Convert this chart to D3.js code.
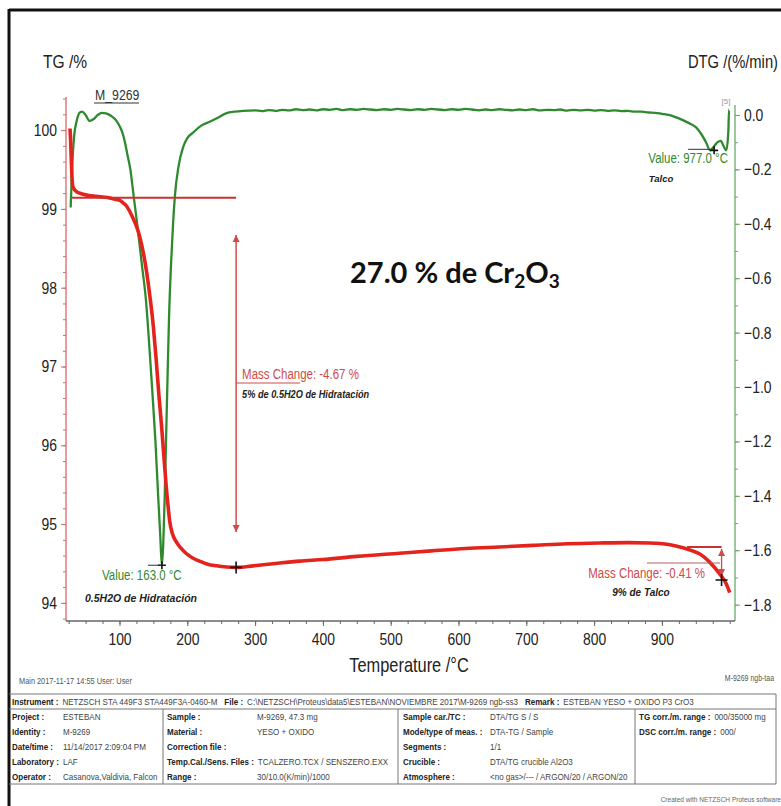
<!DOCTYPE html>
<html><head><meta charset="utf-8">
<script src="https://cdn.jsdelivr.net/npm/d3@7"></script>
<style>
body{margin:0;background:#fff;}
svg text{font-family:"Liberation Sans",Arial,sans-serif;}
</style></head><body>
<svg id="c" width="781" height="806"></svg>
<script>
// ---------- data ----------
const tgTemp = [27,28,29,30,31,34,38,45,55,65,75,85,95,100,105,110,115,120,125,130,135,140,145,150,154,158,162,166,169,172,174,178,184,190,198,208,218,230,243,258,272,297,330,366,400,450,513,560,610,660,710,760,808,850,882,910,931,945,956,970,985,995,1000];
const tgMass = [100.02,99.85,99.6,99.4,99.29,99.24,99.21,99.19,99.17,99.16,99.15,99.14,99.12,99.11,99.08,99.04,98.97,98.88,98.78,98.64,98.45,98.2,97.88,97.5,97.1,96.65,96.25,95.8,95.47,95.2,95.04,94.88,94.77,94.7,94.63,94.57,94.53,94.49,94.47,94.455,94.45,94.47,94.5,94.53,94.55,94.59,94.63,94.66,94.69,94.71,94.73,94.75,94.76,94.765,94.76,94.74,94.7,94.66,94.62,94.52,94.37,94.24,94.13];

const dtgTemp = [28,30,33,37,42,45,50,56,62,68,74,80,88,95,101,105,108,112,116,121,127,133,139,144,148,153,157,160,162.5,164.5,166.5,168.6,171,173,176,179,182,187,194,200,208,220,233,245,258,270,282,300,310,320,330,340,350,360,370,380,390,400,410,420,430,440,450,460,470,480,490,500,510,520,530,540,550,560,570,580,590,600,610,620,630,640,650,660,670,680,690,700,710,720,730,740,750,760,770,780,790,800,810,820,830,840,850,860,870,880,890,900,910,920,930,940,950,958,965,971,977,982,987,991,995,998,999,1000];
const dtgRate = [-0.34,-0.2,-0.08,-0.02,0.01,0.012,0.0,-0.022,-0.015,0.0,0.008,0.006,-0.004,-0.02,-0.045,-0.07,-0.1,-0.15,-0.2,-0.3,-0.42,-0.55,-0.68,-0.85,-1.0,-1.2,-1.4,-1.54,-1.655,-1.58,-1.42,-1.2,-0.95,-0.75,-0.55,-0.4,-0.29,-0.19,-0.117,-0.085,-0.066,-0.04,-0.025,-0.01,0.007,0.012,0.015,0.017,0.014,0.018,0.015,0.019,0.017,0.021,0.018,0.02,0.017,0.021,0.019,0.022,0.018,0.021,0.019,0.022,0.02,0.018,0.021,0.019,0.022,0.02,0.018,0.021,0.019,0.022,0.02,0.018,0.021,0.019,0.022,0.02,0.017,0.02,0.018,0.021,0.019,0.017,0.02,0.018,0.021,0.017,0.019,0.018,0.02,0.016,0.019,0.017,0.019,0.016,0.018,0.015,0.017,0.014,0.015,0.012,0.012,0.009,0.008,0.004,0.0,-0.008,-0.018,-0.03,-0.045,-0.07,-0.1,-0.13,-0.115,-0.1,-0.095,-0.115,-0.13,-0.06,0.02];

const tgTicks = [94,95,96,97,98,99,100];
const tgMinor = d3.range(93.8,100.41,0.2);
const dtgTicks = [0,-0.2,-0.4,-0.6,-0.8,-1.0,-1.2,-1.4,-1.6,-1.8];
const dtgMinor = d3.range(0,-1.86,-0.1);
const tempTicks = [100,200,300,400,500,600,700,800,900];
const tempMinor = d3.range(25,1001,25);

// annotations (values)
const step1 = {t0:30, t1:272, start:99.14, end:94.45, arrowTop:98.67, arrowBot:94.9, label:"Mass Change: -4.67 %", note:"5% de 0.5H2O de Hidratación"};
const step2 = {t0:937, t1:988, start:94.71, end:94.29, label:"Mass Change: -0.41 %", note:"9% de Talco"};
const peak1 = {t:162.5, v:-1.655, label:"Value: 163.0 °C", note:"0.5H2O de Hidratación"};
const peak2 = {t:977, v:-0.13, label:"Value: 977.0 °C", note:"Talco"};

const tableHead = [["Instrument :", "NETZSCH STA 449F3 STA449F3A-0460-M"],["File :", "C:\\NETZSCH\\Proteus\\data5\\ESTEBAN\\NOVIEMBRE 2017\\M-9269 ngb-ss3"],["Remark :", "ESTEBAN YESO + OXIDO P3 CrO3"]];
const tableCol1 = [["Project :","ESTEBAN"],["Identity :","M-9269"],["Date/time :","11/14/2017 2:09:04 PM"],["Laboratory :","LAF"],["Operator :","Casanova,Valdivia, Falcon"]];
const tableCol2 = [["Sample :","M-9269, 47.3 mg"],["Material :","YESO + OXIDO"],["Correction file :",""],["Temp.Cal./Sens. Files :","TCALZERO.TCX / SENSZERO.EXX"],["Range :","30/10.0(K/min)/1000"]];
const tableCol3 = [["Sample car./TC :","DTA/TG S / S"],["Mode/type of meas. :","DTA-TG / Sample"],["Segments :","1/1"],["Crucible :","DTA/TG crucible Al2O3"],["Atmosphere :","<no gas>/--- / ARGON/20 / ARGON/20"]];
const tableCol4 = [["TG corr./m. range :","000/35000 mg"],["DSC corr./m. range :","000/"]];

// ---------- layout ----------
const SX = 0.82; // narrow-font emulation
const svg = d3.select("#c");
svg.append("rect").attr("width",781).attr("height",806).attr("fill","#fff");
const X0=66, X1=735, Y0=97, Y1=621;
const x = d3.scaleLinear().domain([21.1,1007.8]).range([X0,X1]);
const yTG = d3.scaleLinear().domain([93.77,100.42]).range([Y1,Y0]);
const yD = d3.scaleLinear().domain([-1.86,0.066]).range([Y1,Y0]);

const RED="#e5231d", GREEN="#2f8a2f", AXRED="#d66a6a", AXGREEN="#6aaa6a", ANRED="#d04a48";

function nt(parent, tx, ty, str, size, fill, anchor, sx){
  const g = parent.append("g").attr("transform",`translate(${tx},${ty}) scale(${sx||SX},1)`);
  return g.append("text").text(str).style("font-size",size+"px").attr("fill",fill||"#222").attr("text-anchor",anchor||"start");
}

// frame
svg.append("line").attr("x1",9).attr("x2",781).attr("y1",10).attr("y2",10).attr("stroke","#111").attr("stroke-width",3);
svg.append("line").attr("x1",9).attr("x2",9).attr("y1",9).attr("y2",806).attr("stroke","#111").attr("stroke-width",3);

// axes
function styleAxis(g, col){
  g.select(".domain").attr("stroke",col).attr("stroke-width",1.3);
  g.selectAll(".tick line").attr("stroke",col);
  g.selectAll(".tick text").attr("fill","#222").style("font-size","17px").each(function(){
    const t=d3.select(this); const xa=+t.attr("x")||0; t.attr("x",0).attr("transform",`translate(${xa},0) scale(${SX},1)`);
  });
}
const gl = svg.append("g").attr("transform",`translate(${X0},0)`);
gl.call(d3.axisLeft(yTG).tickValues(tgMinor).tickSize(3).tickFormat("")).call(g=>styleAxis(g,AXRED));
gl.append("g").call(d3.axisLeft(yTG).tickValues(tgTicks).tickSize(5).tickPadding(4).tickFormat(d3.format("d"))).call(g=>{styleAxis(g,AXRED); g.select(".domain").remove();});

const gr = svg.append("g").attr("transform",`translate(${X1},0)`);
gr.call(d3.axisRight(yD).tickValues(dtgMinor).tickSize(3).tickFormat("")).call(g=>styleAxis(g,AXGREEN));
gr.append("g").call(d3.axisRight(yD).tickValues(dtgTicks).tickSize(5).tickPadding(4).tickFormat(d=>d===0?"0.0":d3.format(".1f")(d))).call(g=>{styleAxis(g,AXGREEN); g.select(".domain").remove();});

const gb = svg.append("g").attr("transform",`translate(0,${Y1})`);
gb.call(d3.axisBottom(x).tickValues(tempMinor).tickSize(3).tickFormat("")).call(g=>styleAxis(g,"#666"));
gb.append("g").call(d3.axisBottom(x).tickValues(tempTicks).tickSize(5).tickPadding(7).tickFormat(d3.format("d"))).call(g=>{styleAxis(g,"#666"); g.select(".domain").remove();});

gl.select(".domain").attr("d",`M0,${Y0}V${Y1}`);
gr.select(".domain").attr("d",`M0,${Y0+8}V${Y1}`);
gb.select(".domain").attr("d",`M${X0},0H${X1}`);

// axis titles
nt(svg,43,68,"TG /%",19);
nt(svg,778,68,"DTG /(%/min)",18,"#222","end");
nt(svg,409,672,"Temperature /°C",20,"#222","middle");

// curves
const line = d3.line().curve(d3.curveMonotoneX);
svg.append("path").attr("d", line(dtgTemp.map((t,i)=>[x(t), yD(dtgRate[i])]))).attr("fill","none").attr("stroke",GREEN).attr("stroke-width",2.3).attr("stroke-linejoin","round");
svg.append("path").attr("d", line(tgTemp.map((t,i)=>[x(t), yTG(tgMass[i])]))).attr("fill","none").attr("stroke",RED).attr("stroke-width",3.6).attr("stroke-linejoin","round");

// markers
const defs = svg.append("defs");
defs.append("marker").attr("id","ah").attr("viewBox","0 0 10 10").attr("refX",10).attr("refY",5).attr("markerWidth",7).attr("markerHeight",9).attr("orient","auto-start-reverse").attr("markerUnits","userSpaceOnUse")
  .append("path").attr("d","M0,0L10,5L0,10z").attr("fill",ANRED);

function cross(cx,cy,s=6){ svg.append("path").attr("d",`M${cx-s},${cy}H${cx+s}M${cx},${cy-s}V${cy+s}`).attr("stroke","#111").attr("stroke-width",1.6); }
const noteStyle = t=>t.style("font-weight","bold").style("font-style","italic");

// step 1
svg.append("line").attr("x1",x(step1.t0)).attr("x2",x(step1.t1)).attr("y1",yTG(step1.start)).attr("y2",yTG(step1.start)).attr("stroke","#c8322f").attr("stroke-width",2);
svg.append("line").attr("x1",x(step1.t1)).attr("x2",x(step1.t1)).attr("y1",yTG(step1.arrowTop)).attr("y2",yTG(step1.arrowBot)).attr("stroke",ANRED).attr("stroke-width",1.5).attr("marker-start","url(#ah)").attr("marker-end","url(#ah)");
cross(x(step1.t1), yTG(step1.end));
svg.append("line").attr("x1",x(step1.t1)).attr("x2",x(step1.t1)+64).attr("y1",383).attr("y2",383).attr("stroke",ANRED).attr("stroke-width",1);
nt(svg,x(step1.t1)+6,379,step1.label,14,ANRED);
noteStyle(nt(svg,x(step1.t1)+6,398,step1.note,10,"#222","start",0.92));

// step 2
svg.append("line").attr("x1",x(step2.t0)).attr("x2",x(step2.t1)).attr("y1",yTG(step2.start)).attr("y2",yTG(step2.start)).attr("stroke","#c8322f").attr("stroke-width",2);
svg.append("line").attr("x1",x(step2.t1)).attr("x2",x(step2.t1)).attr("y1",yTG(step2.start)+2).attr("y2",yTG(step2.end)-4).attr("stroke",ANRED).attr("stroke-width",1.3).attr("marker-start","url(#ah)").attr("marker-end","url(#ah)");
cross(x(step2.t1), yTG(step2.end));
svg.append("line").attr("x1",647).attr("x2",720).attr("y1",563).attr("y2",563).attr("stroke","#b06060").attr("stroke-width",1);
nt(svg,705,578,step2.label,14,ANRED,"end");
noteStyle(nt(svg,641,596,step2.note,10,"#222","middle",1));

// peak 1
cross(x(peak1.t), yD(peak1.v), 4);
svg.append("line").attr("x1",x(peak1.t)-14).attr("x2",x(peak1.t)).attr("y1",yD(peak1.v)).attr("y2",yD(peak1.v)).attr("stroke","#333").attr("stroke-width",1);
nt(svg,102,580,peak1.label,14,GREEN);
noteStyle(nt(svg,85,602,peak1.note,10.5,"#222","start",1));

// peak 2
cross(x(peak2.t), yD(peak2.v), 4);
svg.append("line").attr("x1",x(peak2.t)-26).attr("x2",x(peak2.t)).attr("y1",yD(peak2.v)-1).attr("y2",yD(peak2.v)-1).attr("stroke","#333").attr("stroke-width",1);
nt(svg,728,163,peak2.label,14,GREEN,"end");
noteStyle(nt(svg,661,182,peak2.note,9.5,"#222","middle",1));

nt(svg,726,104,"[5]",8,"#999","middle",1);

// sample label
nt(svg,95,100,"M_9269",15,"#333");
svg.append("line").attr("x1",94).attr("x2",139).attr("y1",103).attr("y2",103).attr("stroke","#333").attr("stroke-width",1.2);

// big label
const big = svg.append("text").attr("x",350).attr("y",283).style("font-family","Lato,'Open Sans',sans-serif").style("font-weight","bold").style("font-size","29px").attr("fill","#111");
big.append("tspan").text("27.0 % de Cr");
big.append("tspan").text("2").style("font-size","19px").attr("dy",5);
big.append("tspan").text("O").attr("dy",-5);
big.append("tspan").text("3").style("font-size","19px").attr("dy",5);

// footer
nt(svg,19,684,"Main   2017-11-17 14:55   User: User",9,"#555");
nt(svg,774,681,"M-9269 ngb-taa",8.5,"#555","end");

// table
const TL=9, TR=776, T0=694, HR=15, RH=15;
const tg = svg.append("g");
const ln=(x1,y1,x2,y2)=>tg.append("line").attr("x1",x1).attr("y1",y1).attr("x2",x2).attr("y2",y2).attr("stroke","#777").attr("stroke-width",1);
const TB = T0+HR+5*RH;
ln(TL,T0,TR,T0); ln(TL,T0+HR,TR,T0+HR); ln(TR,T0,TR,TB); ln(TL,TB,TR,TB);
[163,398,635].forEach(cx=>ln(cx,T0+HR,cx,TB));
const FS = 9.8;
let hx = 12;
tableHead.forEach((r)=>{
  const a = nt(tg,hx,T0+11,r[0],FS,"#222"); a.style("font-weight","bold");
  hx += a.node().getComputedTextLength()*SX + 4;
  const b = nt(tg,hx,T0+11,r[1],FS,"#444");
  hx += b.node().getComputedTextLength()*SX + 7;
});
const cols=[[tableCol1,12,63],[tableCol2,167,257],[tableCol3,403,490],[tableCol4,639,713]];
cols.forEach(([rows,lx,vx])=>rows.forEach((r,i)=>{
  const yy=T0+HR+RH*i+11;
  const a = nt(tg,lx,yy,r[0],FS,"#222"); a.style("font-weight","bold");
  const le = lx + a.node().getComputedTextLength()*SX + 4;
  nt(tg,Math.max(vx,le),yy,r[1],FS,"#444");
}));
nt(svg,781,802,"Created with NETZSCH Proteus software",8,"#666","end");
</script></body></html>
